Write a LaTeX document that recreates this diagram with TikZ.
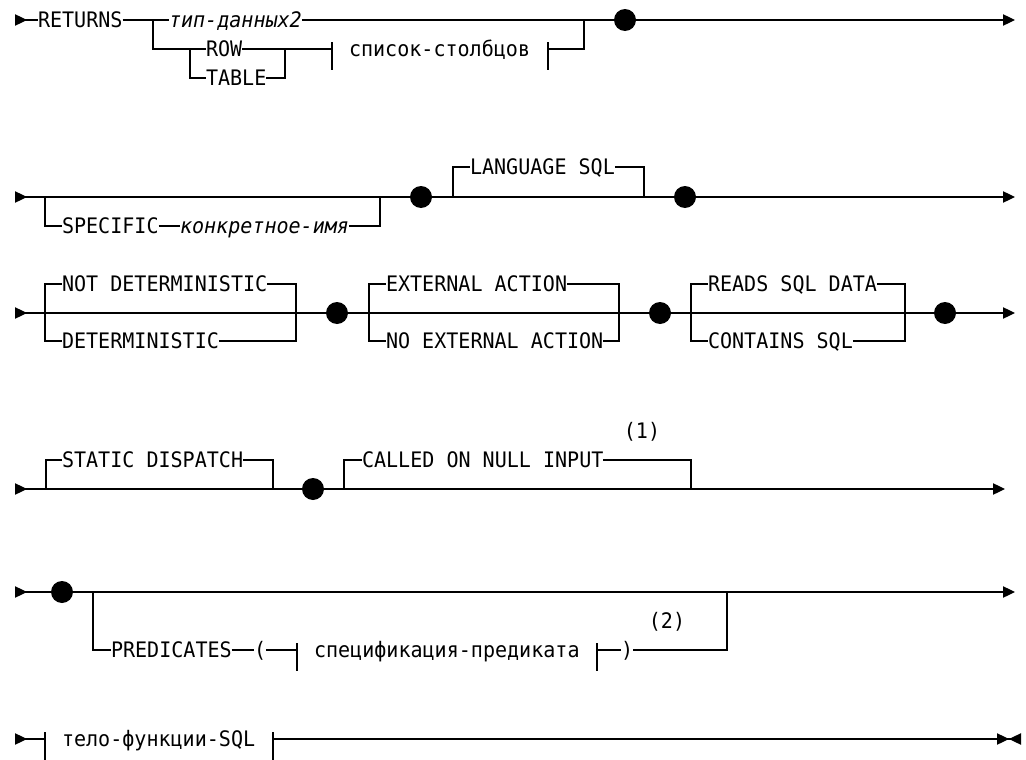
\documentclass[tikz,border=0pt]{standalone}
\usepackage{fontspec}
\setmainfont{DejaVu Sans Mono}[FakeStretch=0.94]
\usetikzlibrary{arrows.meta}
% vertical bar that opens or closes a syntax fragment
\newcommand\fragtick[1]{\draw ([yshift=5.25pt]#1) -- ([yshift=-15.75pt]#1);}
\begin{document}
\begin{tikzpicture}[x=0.75pt,y=-0.75pt,
  line width=0.9pt,
  every node/.style={inner sep=0pt, outer sep=0pt},
  kw/.style={anchor=west, font=\fontsize{16pt}{19pt}\selectfont, text height=11.66pt, text depth=0pt},
  var/.style={kw, font=\fontsize{16pt}{19pt}\selectfont\itshape},
  note/.style={font=\fontsize{16pt}{19pt}\selectfont},
  dot/.style={circle, fill=black, minimum size=16.5pt},
  startarr/.style={arrows={Triangle[reversed,length=9pt,width=8.5pt]-}},
  endarr/.style={arrows={-Triangle[length=9pt,width=8.5pt]}},
  stoparr/.style={arrows={-Triangle[length=9pt,width=8.5pt,sep=0pt]Triangle[reversed,length=9pt,width=8.5pt]}},
]
\useasboundingbox (0,0) rectangle (1026,760);

% ---------- RETURNS ----------
\coordinate (s1) at (15,20);
\node[kw] (ret) at (38,20) {RETURNS};
\coordinate (b1) at (153,20);
\node[var] (typ) at (169,20) {тип-данных2};
\coordinate (j1) at (584,20);
\node[dot] (d1) at (625,20) {};
\coordinate (e1) at (1015,20);
\coordinate (b2) at (190,49);
\node[kw] (row) at (206,49) {ROW};
\node[kw] (tab) at (206,78) {TABLE};
\coordinate (b3) at (285,49);
\coordinate (tl1) at (332,49);
\node[kw] (cols) at (349,49) {список-столбцов};
\coordinate (tr1) at (548,49);

\draw[startarr] (s1) -- (ret);
\draw (ret) -- (b1) -- (typ);
\draw (typ) -- (j1) -- (d1);
\draw[endarr] (d1) -- (e1);
\draw (b1) |- (b2) -- (row);
\draw (b2) |- (tab);
\draw (row) -- (b3);
\draw (tab) -| (b3);
\draw (b3) -- (tl1);
\fragtick{tl1}
\fragtick{tr1}
\draw (tr1) -| (j1);

% ---------- SPECIFIC / LANGUAGE ----------
\coordinate (s2) at (15,197);
\coordinate (b21) at (45,197);
\coordinate (b22) at (380,197);
\node[dot] (d21) at (421,197) {};
\coordinate (b23) at (453,197);
\coordinate (b24) at (644,197);
\node[dot] (d22) at (685,197) {};
\coordinate (e2) at (1015,197);
\node[kw] (spec) at (62,226) {SPECIFIC};
\node[var] (cname) at (180,226) {конкретное-имя};
\node[kw] (lang) at (470,167) {LANGUAGE SQL};

\draw[startarr] (s2) -- (d21);
\draw (d21) -- (d22);
\draw[endarr] (d22) -- (e2);
\draw (b21) |- (spec);
\draw (spec) -- (cname);
\draw (cname) -| (b22);
\draw (b23) |- (lang);
\draw (lang) -| (b24);

% ---------- DETERMINISTIC / ACTION / SQL DATA ----------
\coordinate (s3) at (15,313);
\coordinate (b31) at (45,313);
\coordinate (b32) at (296,313);
\node[dot] (d31) at (337,313) {};
\coordinate (b33) at (369,313);
\coordinate (b34) at (619,313);
\node[dot] (d32) at (660,313) {};
\coordinate (b35) at (691,313);
\coordinate (b36) at (905,313);
\node[dot] (d33) at (945,313) {};
\coordinate (e3) at (1015,313);
\node[kw] (notdet) at (62,284) {NOT DETERMINISTIC};
\node[kw] (det) at (62,341) {DETERMINISTIC};
\node[kw] (ext) at (386,284) {EXTERNAL ACTION};
\node[kw] (noext) at (386,341) {NO EXTERNAL ACTION};
\node[kw] (reads) at (708,284) {READS SQL DATA};
\node[kw] (contains) at (708,341) {CONTAINS SQL};

\draw[startarr] (s3) -- (d31);
\draw (d31) -- (d32) -- (d33);
\draw[endarr] (d33) -- (e3);
\draw (b31) |- (notdet);  \draw (notdet) -| (b32);
\draw (b31) |- (det);     \draw (det) -| (b32);
\draw (b33) |- (ext);     \draw (ext) -| (b34);
\draw (b33) |- (noext);   \draw (noext) -| (b34);
\draw (b35) |- (reads);   \draw (reads) -| (b36);
\draw (b35) |- (contains);\draw (contains) -| (b36);

% ---------- DISPATCH / NULL INPUT ----------
\coordinate (s4) at (15,489);
\coordinate (b41) at (46,489);
\coordinate (b42) at (273,489);
\node[dot] (d41) at (313,489) {};
\coordinate (b43) at (344,489);
\coordinate (b44) at (691,489);
\coordinate (e4) at (1005,489);
\node[kw] (static) at (62,460) {STATIC DISPATCH};
\node[kw] (called) at (362,460) {CALLED ON NULL INPUT};
\node[note] (n1) at (642,432) {(1)};

\draw[startarr] (s4) -- (d41);
\draw[endarr] (d41) -- (e4);
\draw (b41) |- (static);  \draw (static) -| (b42);
\draw (b43) |- (called);  \draw (called) -| (b44);

% ---------- PREDICATES ----------
\coordinate (s5) at (15,592);
\node[dot] (d51) at (62,592) {};
\coordinate (b51) at (93,592);
\coordinate (b52) at (727,592);
\coordinate (e5) at (1015,592);
\node[kw] (pred) at (111,650) {PREDICATES};
\node[kw] (lpar) at (254,650) {(};
\coordinate (tl5) at (297,650);
\node[kw] (predspec) at (314,650) {спецификация-предиката};
\coordinate (tr5) at (597,650);
\node[kw] (rpar) at (621,650) {)};
\node[note] (n2) at (667,622) {(2)};

\draw[startarr] (s5) -- (d51);
\draw[endarr] (d51) -- (e5);
\draw (b51) |- (pred);
\draw (pred) -- (lpar);
\draw (lpar) -- (tl5);
\fragtick{tl5}
\fragtick{tr5}
\draw (tr5) -- (rpar);
\draw (rpar) -| (b52);

% ---------- function body ----------
\coordinate (s6) at (15,739);
\coordinate (tl6) at (45,739);
\node[kw] (body) at (62,739) {тело-функции-SQL};
\coordinate (tr6) at (273,739);
\coordinate (e6) at (1021,739);

\draw[startarr] (s6) -- (tl6);
\fragtick{tl6}
\fragtick{tr6}
\draw[stoparr] (tr6) -- (e6);
\end{tikzpicture}
\end{document}
